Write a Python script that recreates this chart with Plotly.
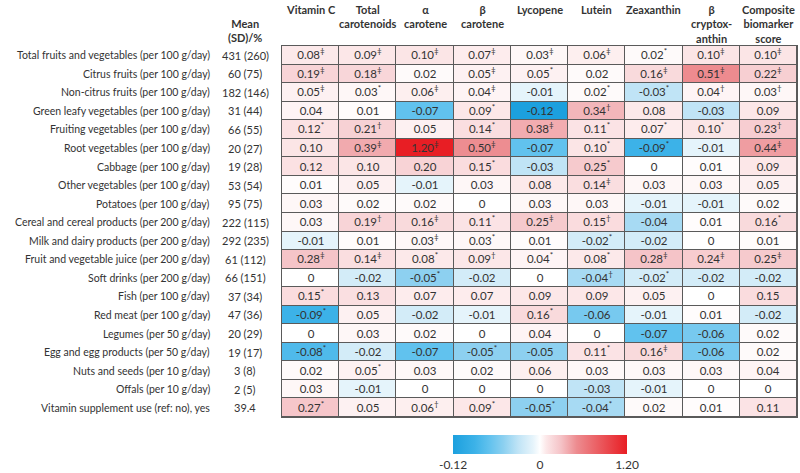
import plotly.graph_objects as go

columns = ["Vitamin C", "Total<br>carotenoids", "α<br>carotene", "β<br>carotene", "Lycopene",
           "Lutein", "Zeaxanthin", "β<br>cryptox-<br>anthin", "Composite<br>biomarker<br>score"]

row_labels = [
    "Total fruits and vegetables (per 100 g/day)",
    "Citrus fruits (per 100 g/day)",
    "Non-citrus fruits (per 100 g/day)",
    "Green leafy vegetables (per 100 g/day)",
    "Fruiting vegetables (per 100 g/day)",
    "Root vegetables (per 100 g/day)",
    "Cabbage (per 100 g/day)",
    "Other vegetables (per 100 g/day)",
    "Potatoes (per 100 g/day)",
    "Cereal and cereal products (per 200 g/day)",
    "Milk and dairy products (per 200 g/day)",
    "Fruit and vegetable juice (per 200 g/day)",
    "Soft drinks (per 200 g/day)",
    "Fish (per 100 g/day)",
    "Red meat (per 100 g/day)",
    "Legumes (per 50 g/day)",
    "Egg and egg products (per 50 g/day)",
    "Nuts and seeds (per 10 g/day)",
    "Offals (per 10 g/day)",
    "Vitamin supplement use (ref: no), yes",
]

mean_sd = ["431 (260)", "60 (75)", "182 (146)", "31 (44)", "66 (55)", "20 (27)", "19 (28)",
           "53 (54)", "95 (75)", "222 (115)", "292 (235)", "61 (112)", "66 (151)", "37 (34)",
           "47 (36)", "20 (29)", "19 (17)", "3 (8)", "2 (5)", "39.4"]

values = [
    [0.08, 0.09, 0.10, 0.07, 0.03, 0.06, 0.02, 0.10, 0.10],
    [0.19, 0.18, 0.02, 0.05, 0.05, 0.02, 0.16, 0.51, 0.22],
    [0.05, 0.03, 0.06, 0.04, -0.01, 0.02, -0.03, 0.04, 0.03],
    [0.04, 0.01, -0.07, 0.09, -0.12, 0.34, 0.08, -0.03, 0.09],
    [0.12, 0.21, 0.05, 0.14, 0.38, 0.11, 0.07, 0.10, 0.23],
    [0.10, 0.39, 1.20, 0.50, -0.07, 0.10, -0.09, -0.01, 0.44],
    [0.12, 0.10, 0.20, 0.15, -0.03, 0.25, 0, 0.01, 0.09],
    [0.01, 0.05, -0.01, 0.03, 0.08, 0.14, 0.03, 0.03, 0.05],
    [0.03, 0.02, 0.02, 0, 0.03, 0.03, -0.01, -0.01, 0.02],
    [0.03, 0.19, 0.16, 0.11, 0.25, 0.15, -0.04, 0.01, 0.16],
    [-0.01, 0.01, 0.03, 0.03, 0.01, -0.02, -0.02, 0, 0.01],
    [0.28, 0.14, 0.08, 0.09, 0.04, 0.08, 0.28, 0.24, 0.25],
    [0, -0.02, -0.05, -0.02, 0, -0.04, -0.02, -0.02, -0.02],
    [0.15, 0.13, 0.07, 0.07, 0.09, 0.09, 0.05, 0, 0.15],
    [-0.09, 0.05, -0.02, -0.01, 0.16, -0.06, -0.01, 0.01, -0.02],
    [0, 0.03, 0.02, 0, 0.04, 0, -0.07, -0.06, 0.02],
    [-0.08, -0.02, -0.07, -0.05, -0.05, 0.11, 0.16, -0.06, 0.02],
    [0.02, 0.05, 0.03, 0.02, 0.06, 0.03, 0.03, 0.03, 0.04],
    [0.03, -0.01, 0, 0, 0, -0.03, -0.01, 0, 0],
    [0.27, 0.05, 0.06, 0.09, -0.05, -0.04, 0.02, 0.01, 0.11],
]

significance = [
    ["‡", "‡", "‡", "‡", "‡", "‡", "*", "‡", "‡"],
    ["‡", "‡", "", "‡", "*", "", "‡", "‡", "‡"],
    ["‡", "*", "‡", "‡", "", "*", "*", "†", "†"],
    ["", "", "", "*", "", "†", "", "", ""],
    ["*", "†", "", "*", "‡", "*", "*", "*", "†"],
    ["", "‡", "‡", "‡", "", "*", "*", "", "‡"],
    ["", "", "", "*", "", "*", "", "", ""],
    ["", "", "", "", "", "‡", "", "", ""],
    ["", "", "", "", "", "", "", "", ""],
    ["", "†", "‡", "*", "‡", "†", "", "", "*"],
    ["", "", "‡", "*", "", "*", "", "", ""],
    ["‡", "‡", "*", "†", "*", "*", "‡", "‡", "‡"],
    ["", "", "*", "", "", "†", "*", "", ""],
    ["*", "", "", "", "", "", "", "", ""],
    ["*", "", "", "", "*", "", "", "", ""],
    ["", "", "", "", "", "", "", "", ""],
    ["*", "", "", "*", "", "*", "‡", "", ""],
    ["", "*", "", "", "", "", "", "", ""],
    ["", "", "", "", "", "", "", "", ""],
    ["*", "", "†", "*", "*", "*", "", "", ""],
]

scale_min = -0.12
scale_max = 1.20

FONT = "Lato"
TXT = "#333333"

# normalise: negative side by |min|, positive side by max -> [-1, 1]
znorm = [[(v / -scale_min) if v < 0 else (v / scale_max) for v in row] for row in values]


def fmt(v):
    return "0" if v == 0 else f"{v:.2f}"


text = [[fmt(v) + (f"<sup>{s}</sup>" if s else "") for v, s in zip(rv, rs)]
        for rv, rs in zip(values, significance)]

colorscale = [
    [0.0, "rgb(28,160,222)"],
    [0.125, "rgb(60,178,232)"],
    [0.21, "rgb(98,194,238)"],
    [0.29, "rgb(140,208,240)"],
    [0.375, "rgb(192,228,246)"],
    [0.46, "rgb(230,244,251)"],
    [0.5, "rgb(255,255,255)"],
    [0.535, "rgb(252,232,233)"],
    [0.58, "rgb(248,212,215)"],
    [0.62, "rgb(245,195,199)"],
    [0.665, "rgb(241,168,172)"],
    [0.71, "rgb(237,140,144)"],
    [1.0, "rgb(232,30,36)"],
]

nrows = len(row_labels)
ncols = len(columns)

PLOT_H = 371.0
PLOT_W = 515.0

fig = go.Figure(go.Heatmap(
    z=znorm,
    x=list(range(ncols)),
    y=list(range(nrows)),
    text=text,
    texttemplate="%{text}",
    textfont=dict(family=FONT, size=11.5, color=TXT),
    colorscale=colorscale,
    zmin=-1, zmax=1,
    xgap=1, ygap=1,
    hoverinfo="skip",
    colorbar=dict(
        orientation="h",
        x=(540 - 282) / PLOT_W, xanchor="center",
        y=-18 / PLOT_H, yanchor="top",
        thickness=19,
        lenmode="pixels", len=174,
        xpad=0, ypad=0,
        tickvals=[-1, 0, 1],
        ticktext=[f"{scale_min:.2f}", "0", f"{scale_max:.2f}"],
        ticks="",
        outlinewidth=0,
        tickfont=dict(family=FONT, size=12, color=TXT),
    ),
))

annotations = []
for j, c in enumerate(columns):
    annotations.append(dict(
        x=j, xref="x", y=1 + 45 / PLOT_H, yref="paper", yanchor="top", xanchor="center",
        text=f"<b>{c}</b>", showarrow=False, align="center",
        font=dict(family=FONT, size=11, color=TXT),
    ))
annotations.append(dict(
    x=-37 / PLOT_W, xref="paper", y=1 + 31 / PLOT_H, yref="paper", yanchor="top", xanchor="center",
    text="<b>Mean<br>(SD)/%</b>", showarrow=False, align="center",
    font=dict(family=FONT, size=11, color=TXT),
))
for i, lab in enumerate(row_labels):
    annotations.append(dict(
        x=-70 / PLOT_W, xref="paper", y=i, yref="y", xanchor="right", yanchor="middle",
        text=lab, showarrow=False, font=dict(family=FONT, size=10.5, color=TXT),
    ))
    annotations.append(dict(
        x=-37 / PLOT_W, xref="paper", y=i, yref="y", xanchor="center", yanchor="middle",
        text=mean_sd[i], showarrow=False, font=dict(family=FONT, size=11, color=TXT),
    ))

fig.update_layout(
    width=800, height=473,
    margin=dict(l=282, r=3, t=46, b=56, autoexpand=False),
    paper_bgcolor="white",
    plot_bgcolor="#5a5a5a",
    font=dict(family=FONT, size=12, color=TXT),
    annotations=annotations,
)
fig.update_xaxes(showticklabels=False, ticks="", showgrid=False, zeroline=False,
                 showline=True, mirror=True, linecolor="#5a5a5a", linewidth=1,
                 range=[-0.5, ncols - 0.5], fixedrange=True)
fig.update_yaxes(showticklabels=False, ticks="", showgrid=False, zeroline=False,
                 showline=True, mirror=True, linecolor="#5a5a5a", linewidth=1,
                 autorange="reversed", fixedrange=True)

fig.write_html("out.html", config={"displayModeBar": False},
               post_script="document.body.style.margin='0';")
